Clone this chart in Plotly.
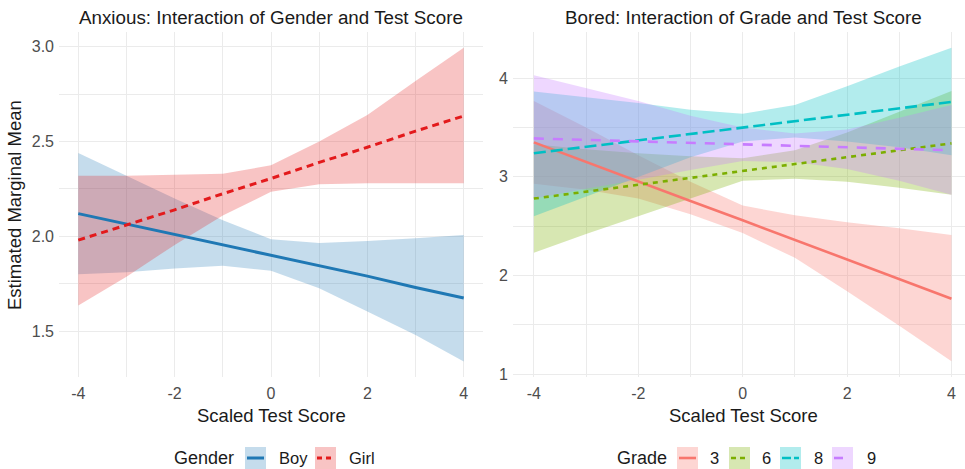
import plotly.graph_objects as go

# ---------------- data ----------------
x_scores = [-4, -3, -2, -1, 0, 1, 2, 3, 4]

# Left panel: Anxious, Gender x Test Score
gender_levels = ["Boy", "Girl"]
boy_mean = [2.12, 2.065, 2.01, 1.955, 1.90, 1.845, 1.79, 1.73, 1.675]
boy_upper = [2.44, 2.32, 2.20, 2.085, 1.985, 1.965, 1.975, 1.99, 2.007]
boy_lower = [1.80, 1.81, 1.83, 1.845, 1.818, 1.726, 1.603, 1.48, 1.34]
girl_mean = [1.98, 2.06, 2.14, 2.225, 2.305, 2.39, 2.47, 2.555, 2.635]
girl_upper = [2.32, 2.32, 2.325, 2.33, 2.375, 2.50, 2.64, 2.82, 2.995]
girl_lower = [1.635, 1.787, 1.955, 2.11, 2.235, 2.275, 2.28, 2.28, 2.28]

# Right panel: Bored, Grade x Test Score
grade_levels = ["3", "6", "8", "9"]
g3_mean = [3.35, 3.15, 2.95, 2.755, 2.56, 2.36, 2.165, 1.965, 1.765]
g3_upper = [3.77, 3.50, 3.22, 2.95, 2.71, 2.61, 2.54, 2.48, 2.41]
g3_lower = [2.93, 2.87, 2.78, 2.62, 2.43, 2.18, 1.84, 1.49, 1.13]
g6_mean = [2.78, 2.85, 2.92, 2.99, 3.06, 3.13, 3.20, 3.27, 3.34]
g6_upper = [3.33, 3.28, 3.24, 3.21, 3.19, 3.27, 3.45, 3.66, 3.87]
g6_lower = [2.23, 2.42, 2.60, 2.78, 2.96, 2.98, 2.95, 2.89, 2.82]
g8_mean = [3.24, 3.305, 3.37, 3.435, 3.50, 3.565, 3.63, 3.695, 3.76]
g8_upper = [3.865, 3.81, 3.75, 3.68, 3.64, 3.73, 3.92, 4.12, 4.31]
g8_lower = [2.60, 2.80, 3.00, 3.20, 3.36, 3.40, 3.36, 3.30, 3.22]
g9_mean = [3.39, 3.375, 3.36, 3.345, 3.33, 3.315, 3.30, 3.285, 3.27]
g9_upper = [4.03, 3.90, 3.77, 3.62, 3.50, 3.44, 3.48, 3.60, 3.73]
g9_lower = [2.78, 2.88, 2.97, 3.07, 3.16, 3.15, 3.08, 2.96, 2.82]

x_tickvals = [-4, -2, 0, 2, 4]
x_ticktext = ["-4", "-2", "0", "2", "4"]
left_y_tickvals = [1.5, 2.0, 2.5, 3.0]
left_y_ticktext = ["1.5", "2.0", "2.5", "3.0"]
right_y_tickvals = [1, 2, 3, 4]
right_y_ticktext = ["1", "2", "3", "4"]

title_left = "Anxious: Interaction of Gender and Test Score"
title_right = "Bored: Interaction of Grade and Test Score"
x_title = "Scaled Test Score"
y_title = "Estimated Marginal Mean"

# ---------------- styles ----------------
W, H = 965, 469
FONT = "Liberation Sans, Arial, sans-serif"

left_series = [
    dict(name="Boy", mean=boy_mean, up=boy_upper, lo=boy_lower,
         color="rgb(31,120,180)", fill="rgba(31,120,180,0.26)", dash="solid"),
    dict(name="Girl", mean=girl_mean, up=girl_upper, lo=girl_lower,
         color="rgb(227,26,28)", fill="rgba(227,26,28,0.26)", dash="7px,5px"),
]
right_series = [
    dict(name="3", mean=g3_mean, up=g3_upper, lo=g3_lower,
         color="rgb(248,118,109)", fill="rgba(248,118,109,0.3)", dash="solid"),
    dict(name="6", mean=g6_mean, up=g6_upper, lo=g6_lower,
         color="rgb(124,174,0)", fill="rgba(124,174,0,0.3)", dash="5px,5px"),
    dict(name="8", mean=g8_mean, up=g8_upper, lo=g8_lower,
         color="rgb(0,191,196)", fill="rgba(0,191,196,0.3)", dash="12px,5px"),
    dict(name="9", mean=g9_mean, up=g9_upper, lo=g9_lower,
         color="rgb(199,124,255)", fill="rgba(199,124,255,0.3)", dash="10px,9px"),
]

fig = go.Figure()


def add_panel(series, xa, ya, lw):
    for s in series:
        fig.add_trace(go.Scatter(
            x=x_scores + x_scores[::-1], y=s["up"] + s["lo"][::-1],
            fill="toself", fillcolor=s["fill"], line=dict(width=0),
            mode="lines", hoverinfo="skip", showlegend=False,
            xaxis=xa, yaxis=ya))
    for s in series:
        fig.add_trace(go.Scatter(
            x=x_scores, y=s["mean"], mode="lines", name=s["name"],
            line=dict(color=s["color"], width=lw, dash=s["dash"]),
            showlegend=False, xaxis=xa, yaxis=ya))


add_panel(left_series, "x", "y", 3)
add_panel(right_series, "x2", "y2", 2.6)


def px(v):
    return v / W


def py(v):
    return 1 - v / H


plot_top, plot_bot = 32, 377
ydom = [py(plot_bot), py(plot_top)]
grid = "#ebebeb"

common_x = dict(tickvals=x_tickvals, ticktext=x_ticktext, showgrid=True,
                gridcolor=grid, gridwidth=1.1, zeroline=False, showline=False,
                ticks="", tickfont=dict(size=16, color="#4d4d4d", family=FONT),
                minor=dict(dtick=1, tick0=0, showgrid=True, gridcolor=grid, gridwidth=0.6),
                ticklabelstandoff=5, automargin=False)
common_y = dict(showgrid=True, gridcolor=grid, gridwidth=1.1, zeroline=False,
                showline=False, ticks="",
                tickfont=dict(size=16, color="#4d4d4d", family=FONT),
                ticklabelstandoff=4, automargin=False)

fig.update_layout(
    template="none",
    width=W, height=H, margin=dict(l=0, r=0, t=0, b=0, pad=0),
    paper_bgcolor="white", plot_bgcolor="white",
    font=dict(family=FONT, color="#1a1a1a"),
    showlegend=False,
    xaxis=dict(domain=[px(59), px(483)], range=[-4.4, 4.4], anchor="y", **common_x),
    yaxis=dict(domain=ydom, range=[1.258, 3.078], anchor="x",
               tickvals=left_y_tickvals, ticktext=left_y_ticktext,
               minor=dict(dtick=0.25, tick0=0, showgrid=True, gridcolor=grid, gridwidth=0.6),
               **common_y),
    xaxis2=dict(domain=[px(513), 1.0], range=[-4.4, -4.4 + (965 - 513) / 52.2],
                anchor="y2", **common_x),
    yaxis2=dict(domain=ydom, range=[0.971, 4.469], anchor="x2",
                tickvals=right_y_tickvals, ticktext=right_y_ticktext,
                minor=dict(dtick=0.5, tick0=0, showgrid=True, gridcolor=grid, gridwidth=0.6),
                **common_y),
)

ann = []


def text(t, x, y, size, xanchor="center", angle=0, color="#1a1a1a"):
    ann.append(dict(text=t, x=px(x), y=py(y), xref="paper", yref="paper",
                    xanchor=xanchor, yanchor="middle", showarrow=False,
                    textangle=angle, font=dict(size=size, color=color, family=FONT)))


text(title_left, 271, 17, 18.8)
text(title_right, 743, 17, 18.8)
text(x_title, 271, 415, 18.5)
text(x_title, 743, 415, 18.5)
text(y_title, 14, 205, 18.5, angle=-90)

shapes = []


def key(x0, s, lw, dash_override=None):
    shapes.append(dict(type="rect", xref="paper", yref="paper",
                       x0=px(x0), x1=px(x0 + 21), y0=py(469), y1=py(447),
                       fillcolor=s["fill"], line=dict(width=0), layer="above"))
    shapes.append(dict(type="line", xref="paper", yref="paper",
                       x0=px(x0 + 2), x1=px(x0 + 19), y0=py(458), y1=py(458),
                       line=dict(color=s["color"], width=lw,
                                 dash=dash_override or s["dash"]), layer="above"))


# left legend
text("Gender", 172, 458, 18, xanchor="left")
key(245, left_series[0], 3)
text("Boy", 277, 458, 16.5, xanchor="left")
key(315, left_series[1], 3, "5px,4px")
text("Girl", 347, 458, 16.5, xanchor="left")

# right legend
text("Grade", 615, 458, 18, xanchor="left")
key_x = [677, 729, 780, 832]
lab_x = [708, 760, 812, 865]
key_dash = ["solid", "5px,4px", "9px,3px", "9px,9px"]
for s, kx, lx, kd in zip(right_series, key_x, lab_x, key_dash):
    key(kx, s, 2.6, kd)
    text(s["name"], lx, 458, 16.5, xanchor="left")

fig.update_layout(annotations=ann, shapes=shapes)
fig.write_html("out.html")
